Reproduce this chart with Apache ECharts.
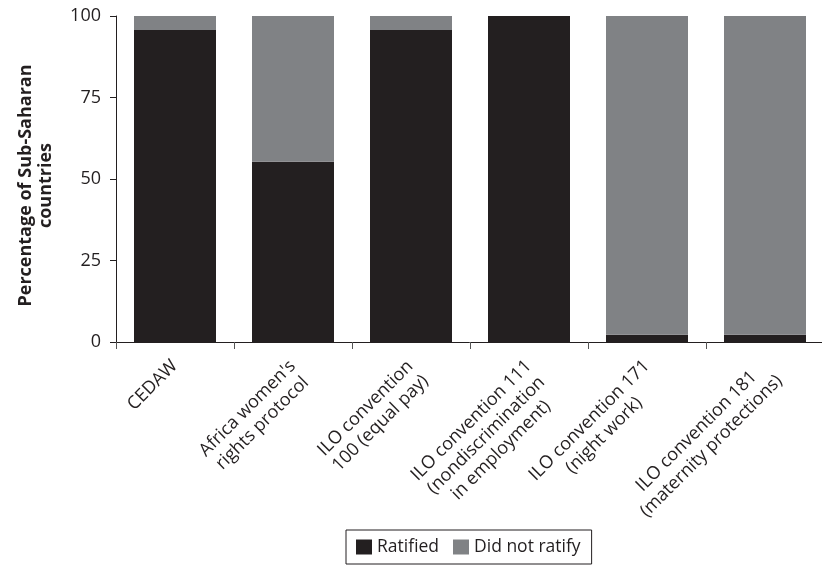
<!DOCTYPE html>
<html><head><meta charset="utf-8">
<script src="https://cdn.jsdelivr.net/npm/echarts@6/dist/echarts.min.js"></script>
<style>html,body{margin:0;padding:0;background:#fff}#c{width:822px;height:565px}</style>
</head><body><div id="c"></div>
<script>
const categories = [
  "CEDAW",
  "Africa women's\nrights protocol",
  "ILO convention\n100 (equal pay)",
  "ILO convention 111\n(nondiscrimination\nin employment)",
  "ILO convention 171\n(night work)",
  "ILO convention 181\n(maternity protections)"
];
const ratified = [95.7, 55.3, 95.7, 100, 2.2, 2.2];
const didNotRatify = [4.3, 44.7, 4.3, 0, 97.8, 97.8];
const yTicks = [0, 25, 50, 75, 100];

const FONT = "Open Sans";
const chart = echarts.init(document.getElementById('c'), null, {renderer: 'canvas'});
chart.setOption({
  animation: false,
  textStyle: {fontFamily: FONT},
  grid: {left: 116, top: 16, width: 708, height: 326, containLabel: false, outerBoundsMode: 'none'},
  legend: {
    data: ['Ratified', 'Did not ratify'],
    left: 346, top: 530,
    icon: 'rect', itemWidth: 16, itemHeight: 15, itemGap: 14,
    borderColor: '#231f20', borderWidth: 1, borderRadius: 0,
    padding: [8, 11, 8, 10],
    textStyle: {fontFamily: FONT, fontSize: 17.5, color: '#231f20'}
  },
  xAxis: {
    type: 'category', data: categories,
    axisLine: {lineStyle: {color: '#231f20', width: 1}},
    axisTick: {show: true, length: 7, lineStyle: {color: '#555'}},
    axisLabel: {
      rotate: 45, interval: 0, margin: 6, verticalAlign: 'top', align: 'right',
      padding: [0, 11, 0, 0],
      fontFamily: FONT, fontSize: 18, color: '#231f20', lineHeight: 21,
      formatter: v => v.split('\n').map(s => '{c|' + s + '}').join('\n'),
      rich: {c: {align: 'center', fontFamily: FONT, fontSize: 18, color: '#231f20', lineHeight: 21}}
    }
  },
  yAxis: {
    type: 'value', min: 0, max: 100, interval: 25,
    name: 'Percentage of Sub-Saharan\ncountries',
    nameLocation: 'middle', nameGap: 60, nameRotate: 90,
    nameTextStyle: {fontFamily: FONT, fontSize: 18, fontWeight: 'bold', color: '#231f20', lineHeight: 20, align: 'center', padding: [0, 13, 0, 0]},
    axisLine: {show: true, lineStyle: {color: '#231f20', width: 1}},
    axisTick: {show: true, length: 6, lineStyle: {color: '#231f20'}},
    splitLine: {show: false},
    axisLabel: {margin: 15, fontFamily: FONT, fontSize: 18, color: '#231f20',
      formatter: v => yTicks.includes(v) ? String(v) : ''}
  },
  series: [
    {name: 'Ratified', type: 'bar', stack: 'a', data: ratified, barWidth: 82,
     itemStyle: {color: '#231f20'}},
    {name: 'Did not ratify', type: 'bar', stack: 'a', data: didNotRatify, barWidth: 82,
     itemStyle: {color: '#808285'}}
  ]
});
</script></body></html>
